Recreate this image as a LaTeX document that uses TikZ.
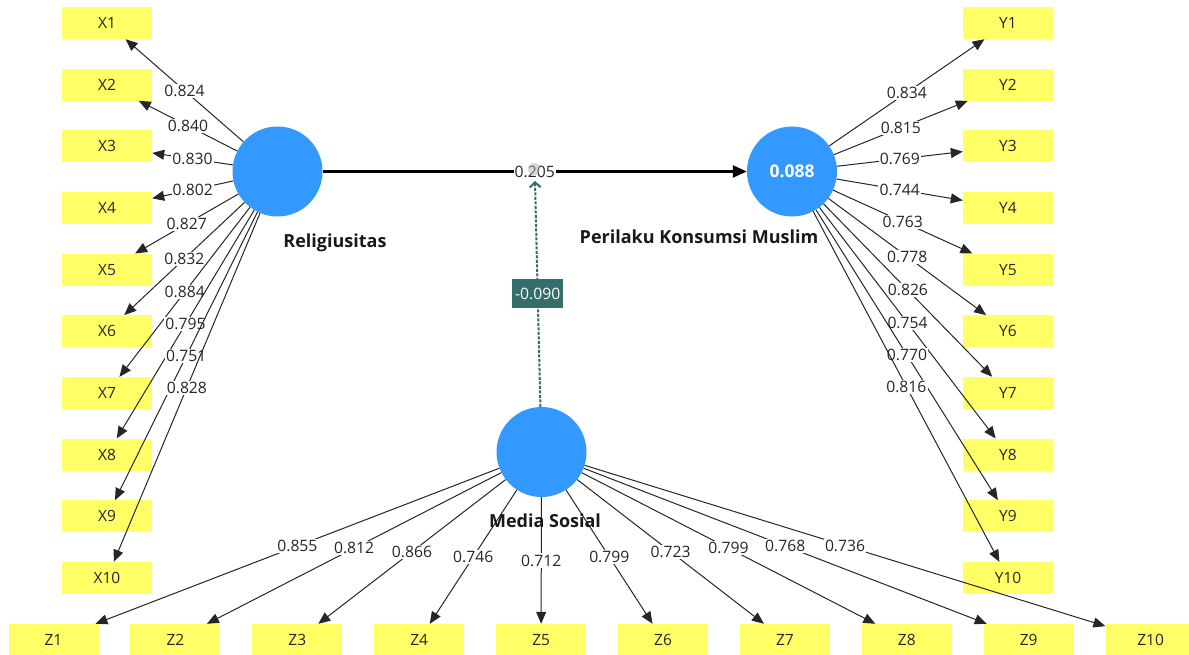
\documentclass[tikz,border=0pt]{standalone}
\usepackage{fontspec}
\setmainfont{Open Sans}
\usetikzlibrary{arrows.meta}
\definecolor{indc}{RGB}{255,255,102}
\definecolor{lvc}{RGB}{51,153,255}
\definecolor{modc}{RGB}{51,110,106}
\begin{document}
\begin{tikzpicture}[x=1pt,y=-1pt,
  indbox/.style={fill=indc, minimum width=90pt, minimum height=32pt, inner sep=0pt, text=black!85, font=\fontsize{15.5}{18}\selectfont},
  lvcirc/.style={circle, fill=lvc, minimum size=90pt, inner sep=0pt},
  ldg/.style={draw=black!85, line width=1pt, -{Triangle[length=12pt,width=10pt]}},
  val/.style={fill=white, inner sep=1.2pt, text=black!85, font=\fontsize{15.7}{18}\selectfont},
  lvname/.style={text=black!90, font=\bfseries\fontsize{18}{20}\selectfont}]
\useasboundingbox (0,0) rectangle (1189,655);

\node[lvcirc] (R) at (277.5,171.5) {};
\node[lvcirc] (P) at (792,171.5) {};
\node[lvcirc] (M) at (541.5,452) {};

\foreach \i in {1,...,10} {
  \node[indbox] (X\i) at ({107},{23+61.67*(\i-1)}) {X\i};
  \node[indbox] (Y\i) at ({1008},{23+61.67*(\i-1)}) {Y\i};
  \node[indbox] (Z\i) at ({53.5+121.9*(\i-1)},{640}) {Z\i};
}

\foreach \v [count=\i] in {0.824,0.840,0.830,0.802,0.827,0.832,0.884,0.795,0.751,0.828}
  \draw[ldg] (R) -- node[val]{\v} (X\i);
\foreach \v [count=\i] in {0.834,0.815,0.769,0.744,0.763,0.778,0.826,0.754,0.770,0.816}
  \draw[ldg] (P) -- node[val]{\v} (Y\i);
\foreach \v [count=\i] in {0.855,0.812,0.866,0.746,0.712,0.799,0.723,0.799,0.768,0.736}
  \draw[ldg] (M) -- node[val]{\v} (Z\i);

\draw[black, line width=2.3pt, -{Triangle[length=14pt,width=12pt]}] (R) -- node[val] (pv) {0.205} (P);

\coordinate (mend) at (535,181);
\draw[modc, line width=2pt, dash pattern=on 3pt off 1.5pt, -{Straight Barb[length=5pt,width=11pt]}]
  (M) -- node[solid, fill=modc, text=white, minimum width=51pt, minimum height=29pt, inner sep=2pt, font=\fontsize{15.7}{18}\selectfont] (mv) {-0.090} (mend);
\fill[gray!60, opacity=0.5] (534,169) circle (6pt);

\node[text=white, font=\bfseries\fontsize{17.5}{20}\selectfont] (Pv) at (P) {0.088};
\node[lvname] (RL) at (335,243) {Religiusitas};
\node[lvname] (PL) at (699,237) {Perilaku Konsumsi Muslim};
\node[lvname] (ML) at (545,521) {Media Sosial};
\end{tikzpicture}
\end{document}
